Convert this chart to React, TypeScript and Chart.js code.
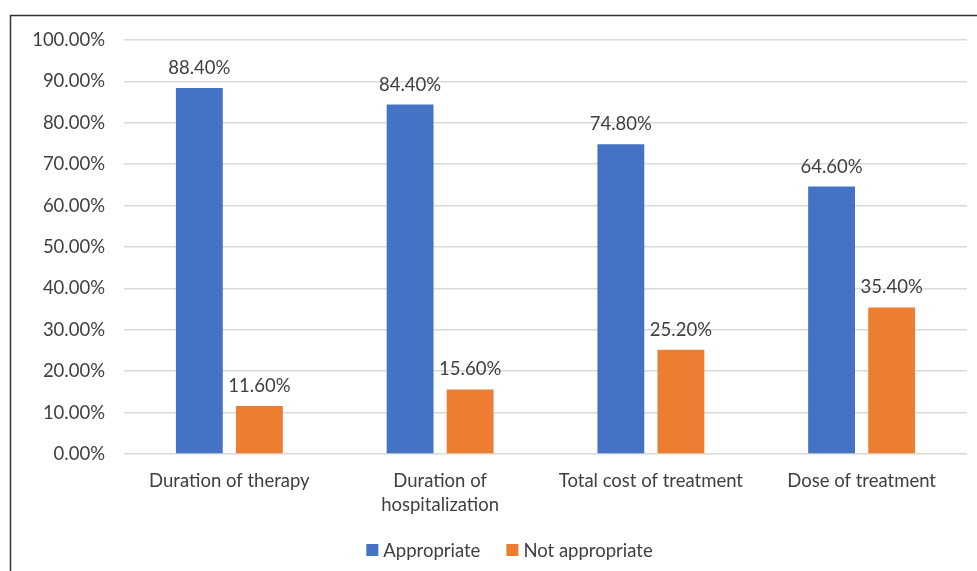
import React, { useEffect, useRef } from "react";
import { Chart, registerables } from "chart.js";

Chart.register(...registerables);

const categories: (string | string[])[] = [
  "Duration of therapy",
  ["Duration of", "hospitalization"],
  "Total cost of treatment",
  "Dose of treatment",
];
const appropriate = [88.4, 84.4, 74.8, 64.6];
const notAppropriate = [11.6, 15.6, 25.2, 35.4];
const seriesNames = ["Appropriate", "Not appropriate"];
const seriesColors = ["#4472C4", "#ED7D31"];

const FONT = "Lato, 'Noto Sans', sans-serif";
const FS = 18.5;
const TEXT = "#404040";

const labelPlugin = {
  id: "valueLabels",
  afterDatasetsDraw(chart: any) {
    const ctx = chart.ctx;
    ctx.save();
    ctx.font = `${FS}px ${FONT}`;
    ctx.fillStyle = TEXT;
    ctx.textAlign = "center";
    ctx.textBaseline = "middle";
    chart.data.datasets.forEach((ds: any, i: number) => {
      const meta = chart.getDatasetMeta(i);
      meta.data.forEach((bar: any, j: number) => {
        ctx.fillText(ds.data[j].toFixed(2) + "%", bar.x, bar.y - 20);
      });
    });
    ctx.restore();
  },
};

const legendPlugin = {
  id: "customLegend",
  afterDraw(chart: any) {
    const ctx = chart.ctx;
    ctx.save();
    ctx.font = `${FS}px ${FONT}`;
    ctx.textBaseline = "middle";
    ctx.textAlign = "left";
    const box = 12, gapBox = 5, gapItem = 26;
    const items = chart.data.datasets.map((ds: any) => ({
      label: ds.label,
      color: ds.backgroundColor,
      w: ctx.measureText(ds.label).width,
    }));
    let total = 0;
    items.forEach((it: any, i: number) => {
      total += box + gapBox + it.w + (i < items.length - 1 ? gapItem : 0);
    });
    const cy = 550;
    let x = 509.5 - total / 2;
    items.forEach((it: any) => {
      ctx.fillStyle = it.color;
      ctx.fillRect(x, cy - box / 2, box, box);
      x += box + gapBox;
      ctx.fillStyle = TEXT;
      ctx.fillText(it.label, x, cy + 1);
      x += it.w + gapItem;
    });
    ctx.restore();
  },
};

const borderPlugin = {
  id: "frame",
  beforeDraw(chart: any) {
    const ctx = chart.ctx;
    ctx.save();
    ctx.fillStyle = "#ffffff";
    ctx.fillRect(0, 0, chart.width, chart.height);
    ctx.strokeStyle = "#333333";
    ctx.lineWidth = 1.5;
    ctx.beginPath();
    ctx.moveTo(10.5, chart.height + 2);
    ctx.lineTo(10.5, 15.5);
    ctx.lineTo(chart.width + 2, 15.5);
    ctx.stroke();
    ctx.restore();
  },
};

export default function App() {
  const ref = useRef<HTMLCanvasElement>(null);
  useEffect(() => {
    if (!ref.current) return;
    const chart = new Chart(ref.current, {
      type: "bar",
      data: {
        labels: categories,
        datasets: [
          {
            label: seriesNames[0],
            data: appropriate,
            backgroundColor: seriesColors[0],
            categoryPercentage: 0.57,
            barPercentage: 0.78,
          },
          {
            label: seriesNames[1],
            data: notAppropriate,
            backgroundColor: seriesColors[1],
            categoryPercentage: 0.57,
            barPercentage: 0.78,
          },
        ],
      },
      options: {
        responsive: false,
        animation: false,
        layout: { padding: { left: 0, right: 10, top: 40, bottom: 0 } },
        plugins: {
          tooltip: { enabled: false },
          legend: { display: false },
        },
        scales: {
          x: {
            grid: { display: false, drawTicks: false },
            border: { display: false },
            ticks: {
              color: TEXT,
              font: { family: FONT, size: FS, lineHeight: 1.3 },
              padding: 15,
              maxRotation: 0,
              autoSkip: false,
            },
            afterFit: (s: any) => {
              s.height = 117;
            },
          },
          y: {
            min: 0,
            max: 100,
            grid: { color: "#d9d9d9", lineWidth: 1.5, drawTicks: false },
            border: { display: false },
            ticks: {
              stepSize: 10,
              color: TEXT,
              font: { family: FONT, size: FS },
              padding: 19,
              callback: (v: any) => Number(v).toFixed(2) + "%",
            },
            afterFit: (s: any) => {
              s.width = 124;
            },
          },
        },
      },
      plugins: [borderPlugin, labelPlugin, legendPlugin],
    });
    return () => chart.destroy();
  }, []);
  return (
    <div style={{ position: "fixed", left: 0, top: 0, width: 977, height: 571, overflow: "hidden", background: "#fff" }}>
      <canvas ref={ref} width={977} height={571} style={{ display: "block" }} />
    </div>
  );
}
